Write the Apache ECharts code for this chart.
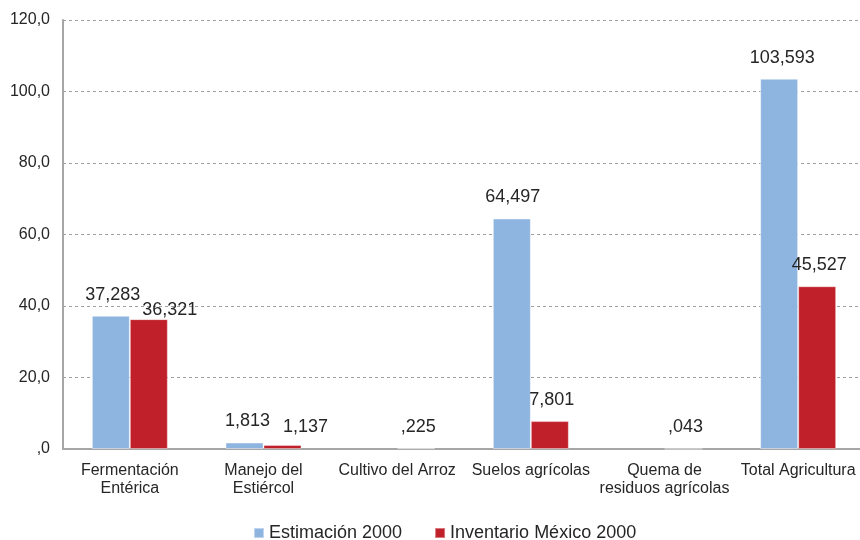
<!DOCTYPE html>
<html>
<head>
<meta charset="utf-8">
<script src="https://cdn.jsdelivr.net/npm/echarts@6/dist/echarts.min.js"></script>
<style>html,body{margin:0;padding:0;background:#fff;overflow:hidden;}#c{width:870px;height:540px;}</style>
</head>
<body>
<div id="c"></div>
<script>
var categories = ['Fermentación\nEntérica', 'Manejo del\nEstiércol', 'Cultivo del Arroz', 'Suelos agrícolas', 'Quema de\nresiduos agrícolas', 'Total Agricultura'];
var seriesNames = ['Estimación 2000', 'Inventario México 2000'];
var estimacion = [37.283, 1.813, null, 64.497, null, 103.593];
var inventario = [36.321, 1.137, 0.225, 7.801, 0.043, 45.527];
var yTicks = [0, 20, 40, 60, 80, 100, 120];
// label nudges (pixels), as placed in the reference
var estLabelOffsets = [[2, 0], [3, 0], [0, 0], [1, 0], [0, 0], [3, 0]];
var invLabelOffsets = [[21, 12], [23, 3], [2, 0], [2, 0], [2, 0], [2, 0]];

function fmt3(v) { return v.toFixed(3).replace('.', ',').replace(/^0/, ''); }
function fmt1(v) { return v.toFixed(1).replace('.', ',').replace(/^0/, ''); }

var chart = echarts.init(document.getElementById('c'));
var labelBase = {
  show: true, position: 'top', distance: 12,
  fontFamily: 'Liberation Sans, Arial, sans-serif', fontSize: 18, color: '#262626',
  formatter: function (p) { return p.value == null ? '' : fmt3(p.value); }
};
chart.setOption({
  animation: false,
  textStyle: { fontFamily: 'Liberation Sans, Arial, sans-serif' },
  grid: { left: 63, right: 5, top: 20, bottom: 91, containLabel: false },
  legend: {
    left: 248, top: 519,
    itemWidth: 10, itemHeight: 10, itemGap: 32,
    icon: 'rect',
    textStyle: { fontSize: 18, color: '#262626', fontFamily: 'Liberation Sans, Arial, sans-serif' },
    data: seriesNames
  },
  xAxis: {
    type: 'category', data: categories,
    axisLine: { lineStyle: { color: '#A6A6A6', width: 2 } },
    axisTick: { show: false },
    axisLabel: { interval: 0, fontSize: 16, lineHeight: 18, color: '#262626', margin: 13 }
  },
  yAxis: {
    type: 'value', min: yTicks[0], max: yTicks[yTicks.length - 1], interval: 20,
    axisLine: { show: true, lineStyle: { color: '#A6A6A6', width: 2 } },
    axisTick: { show: false },
    axisLabel: { fontSize: 16, color: '#262626', margin: 13, formatter: fmt1 },
    splitLine: { lineStyle: { color: '#A0A0A0', type: [3, 3], width: 1 } }
  },
  series: [
    {
      name: seriesNames[0], type: 'bar',
      data: estimacion.map(function (v, i) {
        return { value: v, label: { offset: estLabelOffsets[i] } };
      }),
      barWidth: 38, barGap: '0%',
      itemStyle: { color: '#8EB4E0', borderColor: 'rgba(255,255,255,0.45)', borderWidth: 1 },
      label: labelBase
    },
    {
      name: seriesNames[1], type: 'bar',
      data: inventario.map(function (v, i) {
        return { value: v, label: { offset: invLabelOffsets[i] } };
      }),
      barWidth: 38, barGap: '0%',
      itemStyle: { color: '#C0202A', borderColor: 'rgba(255,255,255,0.4)', borderWidth: 1 },
      label: labelBase
    }
  ]
});
</script>
</body>
</html>
